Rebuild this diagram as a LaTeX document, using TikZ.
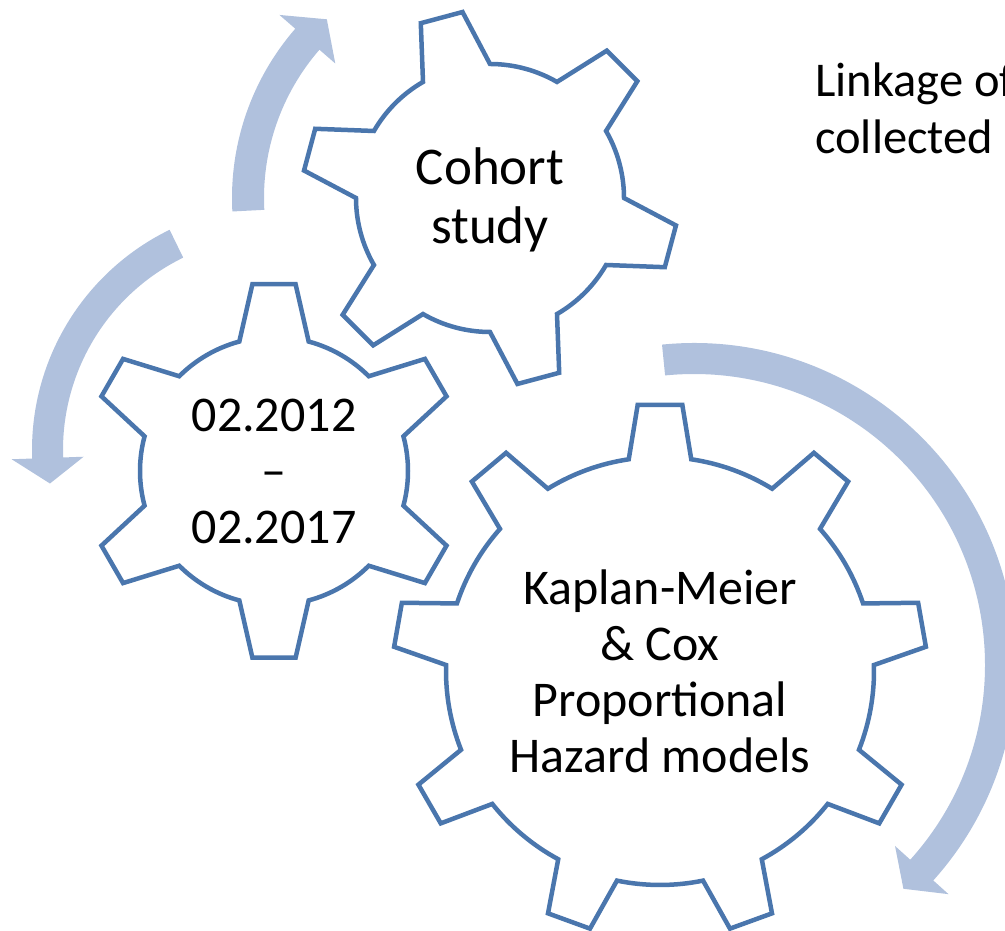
\documentclass[tikz,border=0pt]{standalone}
\usepackage{fontspec}
\setmainfont{Carlito}
\usepackage{tikz}
\usetikzlibrary{positioning, calc}
\definecolor{gearblue}{RGB}{74,118,173}
\definecolor{arrowblue}{RGB}{176,193,221}
\tikzstyle{gearline} = [draw=gearblue,line width=4.5pt,fill=white,line join=miter]
\tikzstyle{circarrow} = [fill=arrowblue,draw=none]
\tikzstyle{geartext} = [align=center,inner sep=0pt,font=\fontsize{50}{56}\selectfont]

% gear: centre, teeth, first tooth angle, outer radius, root radius, tip half angle, root half angle
\newcommand{\drawgear}[7]{%
	\draw[gearline, shift={#1}] ({#3-#7}:#5)
		\foreach \t in {1,...,#2} {
			-- ({#3+(\t-1)*360/#2-#6}:#4) -- ({#3+(\t-1)*360/#2+#6}:#4)
			-- ({#3+(\t-1)*360/#2+#7}:#5)
			arc[start angle={#3+(\t-1)*360/#2+#7}, end angle={#3+\t*360/#2-#7}, radius=#5]
		} -- cycle;
}
% arrow on a circle: centre, radius, half width, tail angle, head angle, tip angle, head half width
\newcommand{\drawcircarrow}[7]{%
	\fill[circarrow, shift={#1}] (#4:{#2+#3}) arc[start angle=#4, end angle=#5, radius={#2+#3}]
		-- (#5:{#2+#7}) -- (#6:#2) -- (#5:{#2-#7}) -- (#5:{#2-#3})
		arc[start angle=#5, end angle=#4, radius={#2-#3}] -- cycle;
}

\begin{document}
\begin{tikzpicture}[x=1pt,y=1pt]
	\useasboundingbox (0,0) rectangle (1005,931);
	\clip (0,0) rectangle (1005,931);

	\coordinate (c1) at (490,733);
	\coordinate (c2) at (274,460);
	\coordinate (c3) at (660,260);

	% arrows round the gears
	\drawcircarrow{(490,733)}{242}{16}{183}{139}{132.4}{37}
	\drawcircarrow{(277,481)}{229.5}{15.5}{116}{182}{188.4}{36}
	\drawcircarrow{(694,266)}{306.5}{15.5}{95.7}{-42}{-46.9}{36}

	% the gears
	\drawgear{(c1)}{6}{105}{188}{134}{6.6}{15}
	\drawgear{(c2)}{6}{90}{188}{134}{6.6}{15}
	\drawgear{(c3)}{9}{90}{267}{214}{4.8}{8.4}

	\node[geartext, font=\fontsize{53}{58.5}\selectfont] (cohort) at ([yshift=-2]c1) {Cohort\\study};
	\node[geartext] (period) at (c2) {02.2012\\--\\02.2017};
	\node[geartext] (models) at (c3) {Kaplan-Meier\\\& Cox\\Proportional\\Hazard models};

	\node[geartext, font=\fontsize{48.5}{56.7}\selectfont, align=left, anchor=north west] (linkage) at (815,868) {Linkage of\\collected};
\end{tikzpicture}
\end{document}
